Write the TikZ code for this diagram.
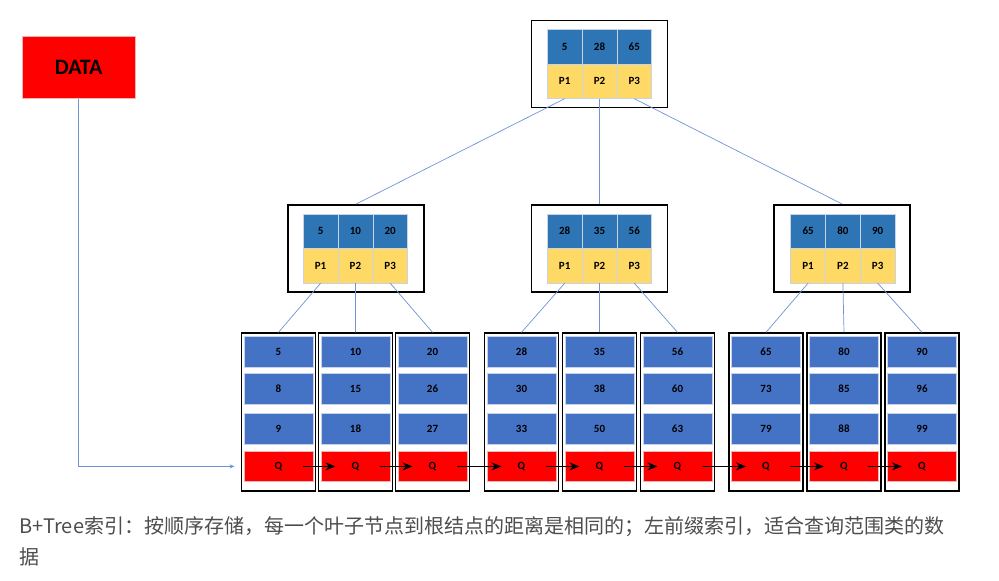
\documentclass[tikz,border=0pt]{standalone}
\usepackage{fontspec}
\setmainfont{Carlito}
\newfontfamily\cjk{Noto Sans CJK SC}
\usepackage{xcolor}
\usepackage{tikz}
\usetikzlibrary{arrows.meta,positioning}

\definecolor{keyblue}{HTML}{2E75B6}
\definecolor{leafblue}{HTML}{4472C4}
\definecolor{ptryellow}{HTML}{FFD966}
\definecolor{qred}{HTML}{FF0000}
\definecolor{qline}{HTML}{F4B4B4}
\definecolor{cellline}{HTML}{C9D3E6}
\definecolor{linkblue}{HTML}{6F93D6}
\definecolor{captext}{HTML}{4D4D4D}

\begin{document}
\begin{tikzpicture}[x=1pt, y=-1pt,
    frame/.style={rectangle, draw=black, line width=1.8pt, inner sep=0pt,
                  minimum width=136pt, minimum height=87pt},
    keycell/.style={rectangle, fill=keyblue, draw=cellline, line width=0.5pt, inner sep=0pt,
                    minimum width=34.8pt, minimum height=34.5pt,
                    font=\fontsize{11}{12}\selectfont\bfseries},
    ptrcell/.style={keycell, fill=ptryellow},
    leafbox/.style={rectangle, draw=black, line width=1.4pt, inner sep=0pt,
                    minimum width=74pt, minimum height=158pt},
    leafcell/.style={rectangle, fill=leafblue, draw=cellline, line width=0.5pt, inner sep=0pt,
                     minimum width=69.4pt, minimum height=30.5pt,
                     font=\fontsize{11}{12}\selectfont\bfseries},
    qcell/.style={leafcell, fill=qred, draw=qline},
    databox/.style={rectangle, fill=qred, draw=qline, line width=0.6pt,
                    minimum width=112.7pt, minimum height=62.7pt,
                    font=\fontsize{22}{24}\selectfont\bfseries},
    link/.style={draw=linkblue, line width=0.7pt},
    qarr/.style={-{Stealth[length=10pt, width=8pt]}, line width=1.6pt,
                 shorten <=24pt, shorten >=20pt},
    caption/.style={anchor=base west, inner sep=0pt, text=captext,
                    font=\cjk\fontsize{20}{24}\selectfont}
  ]
  \useasboundingbox (0,0) rectangle (999,581);

  %% ── data block ──────────────────────────────────────────────────────
  \node[databox]             (data)  at (78.7,67.4)  {DATA};

  %% ── root (y = 64) ───────────────────────────────────────────────────
  \node[frame]               (root)  at (599.5,64)   {};
  \node[keycell]             (rk1)   at (564.7,46.7) {5};
  \node[keycell]             (rk2)   at (599.5,46.7) {28};
  \node[keycell]             (rk3)   at (634.3,46.7) {65};
  \node[ptrcell]             (rp1)   at (564.7,81.2) {P1};
  \node[ptrcell]             (rp2)   at (599.5,81.2) {P2};
  \node[ptrcell]             (rp3)   at (634.3,81.2) {P3};

  %% ── inner level (y = 248.5) ─────────────────────────────────────────
  \node[frame]               (n1)    at (356,248.5)    {};
  \node[keycell]             (n1k1)  at (320.6,231.2)  {5};
  \node[keycell]             (n1k2)  at (355.4,231.2)  {10};
  \node[keycell]             (n1k3)  at (390.2,231.2)  {20};
  \node[ptrcell]             (n1p1)  at (320.6,265.7)  {P1};
  \node[ptrcell]             (n1p2)  at (355.4,265.7)  {P2};
  \node[ptrcell]             (n1p3)  at (390.2,265.7)  {P3};

  \node[frame]               (n2)    at (599.5,248.5)  {};
  \node[keycell]             (n2k1)  at (564.7,231.2)  {28};
  \node[keycell]             (n2k2)  at (599.5,231.2)  {35};
  \node[keycell]             (n2k3)  at (634.3,231.2)  {56};
  \node[ptrcell]             (n2p1)  at (564.7,265.7)  {P1};
  \node[ptrcell]             (n2p2)  at (599.5,265.7)  {P2};
  \node[ptrcell]             (n2p3)  at (634.3,265.7)  {P3};

  \node[frame]               (n3)    at (842.3,248.5)  {};
  \node[keycell]             (n3k1)  at (808.1,231.2)  {65};
  \node[keycell]             (n3k2)  at (842.9,231.2)  {80};
  \node[keycell]             (n3k3)  at (877.7,231.2)  {90};
  \node[ptrcell]             (n3p1)  at (808.1,265.7)  {P1};
  \node[ptrcell]             (n3p2)  at (842.9,265.7)  {P2};
  \node[ptrcell]             (n3p3)  at (877.7,265.7)  {P3};

  %% ── leaves (y = 412) ────────────────────────────────────────────────
  \node[leafbox]             (l1)    at (278.5,412)    {};
  \node[leafcell]            (l1a)   at (278.5,351.7)  {5};
  \node[leafcell]            (l1b)   at (278.5,388.8)  {8};
  \node[leafcell]            (l1c)   at (278.5,428.7)  {9};
  \node[qcell]               (l1q)   at (278.5,466.4)  {Q};

  \node[leafbox]             (l2)    at (355.5,412)    {};
  \node[leafcell]            (l2a)   at (355.5,351.7)  {10};
  \node[leafcell]            (l2b)   at (355.5,388.8)  {15};
  \node[leafcell]            (l2c)   at (355.5,428.7)  {18};
  \node[qcell]               (l2q)   at (355.5,466.4)  {Q};

  \node[leafbox]             (l3)    at (432.5,412)    {};
  \node[leafcell]            (l3a)   at (432.5,351.7)  {20};
  \node[leafcell]            (l3b)   at (432.5,388.8)  {26};
  \node[leafcell]            (l3c)   at (432.5,428.7)  {27};
  \node[qcell]               (l3q)   at (432.5,466.4)  {Q};

  \node[leafbox]             (l4)    at (521.5,412)    {};
  \node[leafcell]            (l4a)   at (521.5,351.7)  {28};
  \node[leafcell]            (l4b)   at (521.5,388.8)  {30};
  \node[leafcell]            (l4c)   at (521.5,428.7)  {33};
  \node[qcell]               (l4q)   at (521.5,466.4)  {Q};

  \node[leafbox]             (l5)    at (599.5,412)    {};
  \node[leafcell]            (l5a)   at (599.5,351.7)  {35};
  \node[leafcell]            (l5b)   at (599.5,388.8)  {38};
  \node[leafcell]            (l5c)   at (599.5,428.7)  {50};
  \node[qcell]               (l5q)   at (599.5,466.4)  {Q};

  \node[leafbox]             (l6)    at (677.5,412)    {};
  \node[leafcell]            (l6a)   at (677.5,351.7)  {56};
  \node[leafcell]            (l6b)   at (677.5,388.8)  {60};
  \node[leafcell]            (l6c)   at (677.5,428.7)  {63};
  \node[qcell]               (l6q)   at (677.5,466.4)  {Q};

  \node[leafbox]             (l7)    at (766,412)      {};
  \node[leafcell]            (l7a)   at (766,351.7)    {65};
  \node[leafcell]            (l7b)   at (766,388.8)    {73};
  \node[leafcell]            (l7c)   at (766,428.7)    {79};
  \node[qcell]               (l7q)   at (766,466.4)    {Q};

  \node[leafbox]             (l8)    at (844,412)      {};
  \node[leafcell]            (l8a)   at (844,351.7)    {80};
  \node[leafcell]            (l8b)   at (844,388.8)    {85};
  \node[leafcell]            (l8c)   at (844,428.7)    {88};
  \node[qcell]               (l8q)   at (844,466.4)    {Q};

  \node[leafbox]             (l9)    at (922,412)      {};
  \node[leafcell]            (l9a)   at (922,351.7)    {90};
  \node[leafcell]            (l9b)   at (922,388.8)    {96};
  \node[leafcell]            (l9c)   at (922,428.7)    {99};
  \node[qcell]               (l9q)   at (922,466.4)    {Q};

  %% ── tree links ──────────────────────────────────────────────────────
  \draw[link] (rp1.south) -- (n1.north);
  \draw[link] (rp2.south) -- (n2.north);
  \draw[link] (rp3.south) -- (n3.north);
  \draw[link] (n1p1.south) -- (l1.north);
  \draw[link] (n1p2.south) -- (l2.north);
  \draw[link] (n1p3.south) -- (l3.north);
  \draw[link] (n2p1.south) -- (l4.north);
  \draw[link] (n2p2.south) -- (l5.north);
  \draw[link] (n2p3.south) -- (l6.north);
  \draw[link] (n3p1.south) -- (l7.north);
  \draw[link] (n3p2.south) -- (l8.north);
  \draw[link] (n3p3.south) -- (l9.north);
  \draw[link, -{Stealth[length=5pt, width=4pt]}, shorten >=9pt] (data.south) |- (l1q.west);

  %% ── leaf chain ──────────────────────────────────────────────────────
  \draw[qarr] (l1q.center) -- (l2q.center);
  \draw[qarr] (l2q.center) -- (l3q.center);
  \draw[qarr] (l3q.center) -- (l4q.center);
  \draw[qarr] (l4q.center) -- (l5q.center);
  \draw[qarr] (l5q.center) -- (l6q.center);
  \draw[qarr] (l6q.center) -- (l7q.center);
  \draw[qarr] (l7q.center) -- (l8q.center);
  \draw[qarr] (l8q.center) -- (l9q.center);

  %% ── caption ─────────────────────────────────────────────────────────
  \node[caption] (cap1) at (19,533.5) {B+Tree索引：按顺序存储，每一个叶子节点到根结点的距离是相同的；左前缀索引，适合查询范围类的数};
  \node[caption] (cap2) at (19,564)   {据};

\end{tikzpicture}
\end{document}
